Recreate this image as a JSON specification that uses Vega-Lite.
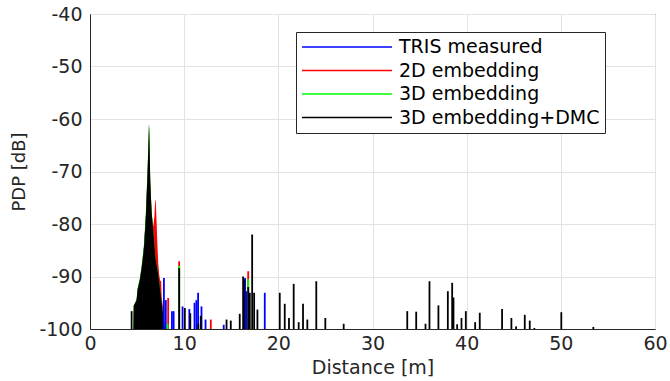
{
  "$schema": "https://vega.github.io/schema/vega-lite/v6.json",
  "width": 565,
  "height": 315,
  "autosize": "none",
  "padding": {"left": 90, "top": 14, "right": 15, "bottom": 52},
  "background": "white",
  "datasets": {
    "env": [
      {"s": "TRIS measured", "d": 4.6, "p": -100},
      {"s": "TRIS measured", "d": 4.66, "p": -96},
      {"s": "TRIS measured", "d": 5.0, "p": -94},
      {"s": "TRIS measured", "d": 5.5, "p": -89.5},
      {"s": "TRIS measured", "d": 5.9, "p": -80},
      {"s": "TRIS measured", "d": 6.2, "p": -67},
      {"s": "TRIS measured", "d": 6.26, "p": -64},
      {"s": "TRIS measured", "d": 6.4, "p": -74},
      {"s": "TRIS measured", "d": 6.7, "p": -83},
      {"s": "TRIS measured", "d": 7.0, "p": -88},
      {"s": "TRIS measured", "d": 7.4, "p": -93},
      {"s": "TRIS measured", "d": 7.6, "p": -96},
      {"s": "TRIS measured", "d": 7.8, "p": -100},

      {"s": "2D embedding", "d": 4.6, "p": -100},
      {"s": "2D embedding", "d": 4.65, "p": -95.5},
      {"s": "2D embedding", "d": 4.95, "p": -94.5},
      {"s": "2D embedding", "d": 5.05, "p": -92.5},
      {"s": "2D embedding", "d": 5.3, "p": -90.5},
      {"s": "2D embedding", "d": 5.48, "p": -88.4},
      {"s": "2D embedding", "d": 5.73, "p": -84.5},
      {"s": "2D embedding", "d": 5.94, "p": -78.2},
      {"s": "2D embedding", "d": 6.12, "p": -70},
      {"s": "2D embedding", "d": 6.26, "p": -62},
      {"s": "2D embedding", "d": 6.4, "p": -72},
      {"s": "2D embedding", "d": 6.54, "p": -78},
      {"s": "2D embedding", "d": 6.72, "p": -80.5},
      {"s": "2D embedding", "d": 6.84, "p": -78.5},
      {"s": "2D embedding", "d": 6.92, "p": -75.5},
      {"s": "2D embedding", "d": 6.98, "p": -75.5},
      {"s": "2D embedding", "d": 7.06, "p": -79},
      {"s": "2D embedding", "d": 7.14, "p": -83.3},
      {"s": "2D embedding", "d": 7.25, "p": -87.5},
      {"s": "2D embedding", "d": 7.35, "p": -89.6},
      {"s": "2D embedding", "d": 7.45, "p": -90.8},
      {"s": "2D embedding", "d": 7.55, "p": -90.8},
      {"s": "2D embedding", "d": 7.62, "p": -94},
      {"s": "2D embedding", "d": 7.75, "p": -96},
      {"s": "2D embedding", "d": 7.9, "p": -100},

      {"s": "3D embedding", "d": 4.6, "p": -100},
      {"s": "3D embedding", "d": 4.635, "p": -95.5},
      {"s": "3D embedding", "d": 4.935, "p": -94.5},
      {"s": "3D embedding", "d": 5.035, "p": -92.4},
      {"s": "3D embedding", "d": 5.285, "p": -90.4},
      {"s": "3D embedding", "d": 5.465, "p": -88.3},
      {"s": "3D embedding", "d": 5.715, "p": -84.4},
      {"s": "3D embedding", "d": 5.925, "p": -78.1},
      {"s": "3D embedding", "d": 6.105, "p": -69.8},
      {"s": "3D embedding", "d": 6.25, "p": -61.1},
      {"s": "3D embedding", "d": 6.27, "p": -61.1},
      {"s": "3D embedding", "d": 6.39, "p": -71.6},
      {"s": "3D embedding", "d": 6.54, "p": -77.5},
      {"s": "3D embedding", "d": 6.72, "p": -81.3},
      {"s": "3D embedding", "d": 6.96, "p": -86.4},
      {"s": "3D embedding", "d": 7.25, "p": -89.6},
      {"s": "3D embedding", "d": 7.6, "p": -94.7},
      {"s": "3D embedding", "d": 7.96, "p": -100},

      {"s": "3D embedding+DMC", "d": 4.62, "p": -100},
      {"s": "3D embedding+DMC", "d": 4.65, "p": -95.5},
      {"s": "3D embedding+DMC", "d": 4.95, "p": -94.5},
      {"s": "3D embedding+DMC", "d": 5.05, "p": -92.5},
      {"s": "3D embedding+DMC", "d": 5.3, "p": -90.5},
      {"s": "3D embedding+DMC", "d": 5.48, "p": -88.4},
      {"s": "3D embedding+DMC", "d": 5.6, "p": -86.5},
      {"s": "3D embedding+DMC", "d": 5.73, "p": -84.5},
      {"s": "3D embedding+DMC", "d": 5.85, "p": -81},
      {"s": "3D embedding+DMC", "d": 5.94, "p": -78.2},
      {"s": "3D embedding+DMC", "d": 6.05, "p": -73},
      {"s": "3D embedding+DMC", "d": 6.12, "p": -69.9},
      {"s": "3D embedding+DMC", "d": 6.2, "p": -65},
      {"s": "3D embedding+DMC", "d": 6.26, "p": -61},
      {"s": "3D embedding+DMC", "d": 6.3, "p": -62},
      {"s": "3D embedding+DMC", "d": 6.35, "p": -67},
      {"s": "3D embedding+DMC", "d": 6.4, "p": -71.8},
      {"s": "3D embedding+DMC", "d": 6.54, "p": -77.6},
      {"s": "3D embedding+DMC", "d": 6.72, "p": -81.4},
      {"s": "3D embedding+DMC", "d": 6.96, "p": -86.5},
      {"s": "3D embedding+DMC", "d": 7.25, "p": -89.6},
      {"s": "3D embedding+DMC", "d": 7.6, "p": -94.7},
      {"s": "3D embedding+DMC", "d": 7.95, "p": -100}
    ],
    "spk": [
      {"s": "TRIS measured", "d": 7.85, "p": -90.3},
      {"s": "TRIS measured", "d": 8.05, "p": -94.5},
      {"s": "TRIS measured", "d": 8.7, "p": -96.6},
      {"s": "TRIS measured", "d": 8.88, "p": -96.6},
      {"s": "TRIS measured", "d": 9.83, "p": -95.7},
      {"s": "TRIS measured", "d": 10.55, "p": -96.2},
      {"s": "TRIS measured", "d": 11.1, "p": -95},
      {"s": "TRIS measured", "d": 11.3, "p": -94.5},
      {"s": "TRIS measured", "d": 11.48, "p": -93.1},
      {"s": "TRIS measured", "d": 11.84, "p": -95.7},
      {"s": "TRIS measured", "d": 12.27, "p": -98.2},
      {"s": "TRIS measured", "d": 14.2, "p": -99.2},
      {"s": "TRIS measured", "d": 16.47, "p": -90.3},
      {"s": "TRIS measured", "d": 16.6, "p": -92.8},
      {"s": "TRIS measured", "d": 18.56, "p": -93.1},

      {"s": "2D embedding", "d": 8.3, "p": -94.1},
      {"s": "2D embedding", "d": 9.47, "p": -87.1},
      {"s": "2D embedding", "d": 12.83, "p": -98.2},
      {"s": "2D embedding", "d": 16.8, "p": -89},

      {"s": "3D embedding", "d": 8.24, "p": -99},
      {"s": "3D embedding", "d": 9.47, "p": -88},
      {"s": "3D embedding", "d": 16.8, "p": -90.5},

      {"s": "3D embedding+DMC", "d": 4.42, "p": -96.6},
      {"s": "3D embedding+DMC", "d": 9.47, "p": -88.4},
      {"s": "3D embedding+DMC", "d": 10.07, "p": -96},
      {"s": "3D embedding+DMC", "d": 10.65, "p": -97},
      {"s": "3D embedding+DMC", "d": 11.5, "p": -99},
      {"s": "3D embedding+DMC", "d": 11.76, "p": -97.5},
      {"s": "3D embedding+DMC", "d": 14.5, "p": -98.2},
      {"s": "3D embedding+DMC", "d": 14.95, "p": -98.4},
      {"s": "3D embedding+DMC", "d": 15.9, "p": -97.1},
      {"s": "3D embedding+DMC", "d": 16.26, "p": -90},
      {"s": "3D embedding+DMC", "d": 16.35, "p": -90.5},
      {"s": "3D embedding+DMC", "d": 16.8, "p": -92},
      {"s": "3D embedding+DMC", "d": 16.97, "p": -93.1},
      {"s": "3D embedding+DMC", "d": 17.22, "p": -82},
      {"s": "3D embedding+DMC", "d": 17.43, "p": -93.1},
      {"s": "3D embedding+DMC", "d": 17.78, "p": -96.3},
      {"s": "3D embedding+DMC", "d": 20.15, "p": -93.1},
      {"s": "3D embedding+DMC", "d": 20.68, "p": -95.2},
      {"s": "3D embedding+DMC", "d": 21.13, "p": -97.9},
      {"s": "3D embedding+DMC", "d": 21.63, "p": -91.4},
      {"s": "3D embedding+DMC", "d": 22.16, "p": -98.7},
      {"s": "3D embedding+DMC", "d": 22.62, "p": -95.2},
      {"s": "3D embedding+DMC", "d": 23.08, "p": -98.2},
      {"s": "3D embedding+DMC", "d": 24.03, "p": -90.9},
      {"s": "3D embedding+DMC", "d": 24.99, "p": -97.9},
      {"s": "3D embedding+DMC", "d": 26.94, "p": -99},
      {"s": "3D embedding+DMC", "d": 33.69, "p": -96.6},
      {"s": "3D embedding+DMC", "d": 34.64, "p": -96.7},
      {"s": "3D embedding+DMC", "d": 35.63, "p": -99},
      {"s": "3D embedding+DMC", "d": 36.05, "p": -90.9},
      {"s": "3D embedding+DMC", "d": 37.0, "p": -95.5},
      {"s": "3D embedding+DMC", "d": 38.0, "p": -92.8},
      {"s": "3D embedding+DMC", "d": 38.46, "p": -91.2},
      {"s": "3D embedding+DMC", "d": 38.6, "p": -94},
      {"s": "3D embedding+DMC", "d": 38.99, "p": -99.1},
      {"s": "3D embedding+DMC", "d": 39.45, "p": -97.9},
      {"s": "3D embedding+DMC", "d": 39.91, "p": -96.6},
      {"s": "3D embedding+DMC", "d": 40.9, "p": -98.7},
      {"s": "3D embedding+DMC", "d": 41.39, "p": -96.9},
      {"s": "3D embedding+DMC", "d": 43.76, "p": -96.2},
      {"s": "3D embedding+DMC", "d": 44.75, "p": -97.9},
      {"s": "3D embedding+DMC", "d": 45.25, "p": -99.5},
      {"s": "3D embedding+DMC", "d": 46.17, "p": -97.3},
      {"s": "3D embedding+DMC", "d": 46.7, "p": -98.4},
      {"s": "3D embedding+DMC", "d": 47.19, "p": -99.8},
      {"s": "3D embedding+DMC", "d": 50.05, "p": -96.8},
      {"s": "3D embedding+DMC", "d": 53.45, "p": -99.6}
    ]
  },
  "encoding": {
    "x": {
      "field": "d", "type": "quantitative",
      "scale": {"domain": [0, 60], "nice": false, "zero": false},
      "axis": {"title": "Distance [m]", "values": [0, 10, 20, 30, 40, 50, 60], "labelExpr": "'' + datum.value"}
    },
    "y": {
      "field": "p", "type": "quantitative",
      "scale": {"domain": [-100, -40], "nice": false, "zero": false},
      "axis": {"title": "PDP [dB]", "values": [-100, -90, -80, -70, -60, -50, -40], "labelExpr": "'' + datum.value"}
    },
    "y2": {"datum": -100},
    "color": {
      "field": "s", "type": "nominal",
      "scale": {
        "domain": ["TRIS measured", "2D embedding", "3D embedding", "3D embedding+DMC"],
        "range": ["#0000ff", "#ff0000", "#00ff00", "#000000"]
      },
      "legend": {
        "title": null,
        "orient": "none",
        "legendX": 206,
        "legendY": 18,
        "symbolType": "M-1,0H9",
        "symbolSize": 324,
        "symbolStrokeWidth": 1.4,
        "labelFontSize": 19,
        "labelFont": "DejaVu Sans",
        "labelColor": "#000000",
        "labelOffset": 78,
        "labelLimit": 400,
        "rowPadding": 3.5,
        "padding": 5,
        "strokeColor": "#262626",
        "fillColor": "white",
        "encode": {
          "symbols": {
            "update": {
              "stroke": {"scale": "color", "field": "value"},
              "strokeWidth": {"value": 1.4}
            }
          }
        }
      }
    }
  },
  "layer": [
    {"data": {"name": "env"}, "transform": [{"filter": "datum.s === 'TRIS measured'"}], "mark": {"type": "area", "opacity": 1, "interpolate": "linear"}},
    {"data": {"name": "env"}, "transform": [{"filter": "datum.s === '2D embedding'"}], "mark": {"type": "area", "opacity": 1, "interpolate": "linear"}},
    {"data": {"name": "env"}, "transform": [{"filter": "datum.s === '3D embedding'"}], "mark": {"type": "area", "opacity": 1, "interpolate": "linear"}},
    {"data": {"name": "env"}, "transform": [{"filter": "datum.s === '3D embedding+DMC'"}], "mark": {"type": "area", "opacity": 1, "interpolate": "linear"}},
    {"data": {"name": "spk"}, "mark": {"type": "rule", "strokeWidth": 1.8}}
  ],
  "config": {
    "view": {"stroke": "#262626", "strokeWidth": 1},
    "font": "DejaVu Sans",
    "axis": {
      "grid": true,
      "gridColor": "#e3e3e3",
      "gridWidth": 1,
      "domainColor": "#262626",
      "ticks": false,
      "labelFont": "DejaVu Sans",
      "labelFontSize": 19,
      "labelColor": "#262626",
      "labelFlush": false,
      "labelOverlap": false,
      "titleFont": "DejaVu Sans",
      "titleFontSize": 19,
      "titleFontWeight": "normal",
      "titleColor": "#262626"
    },
    "axisX": {"labelPadding": 5, "titlePadding": 5},
    "axisY": {"labelPadding": 8, "titlePadding": 10, "titleFontSize": 18}
  }
}
